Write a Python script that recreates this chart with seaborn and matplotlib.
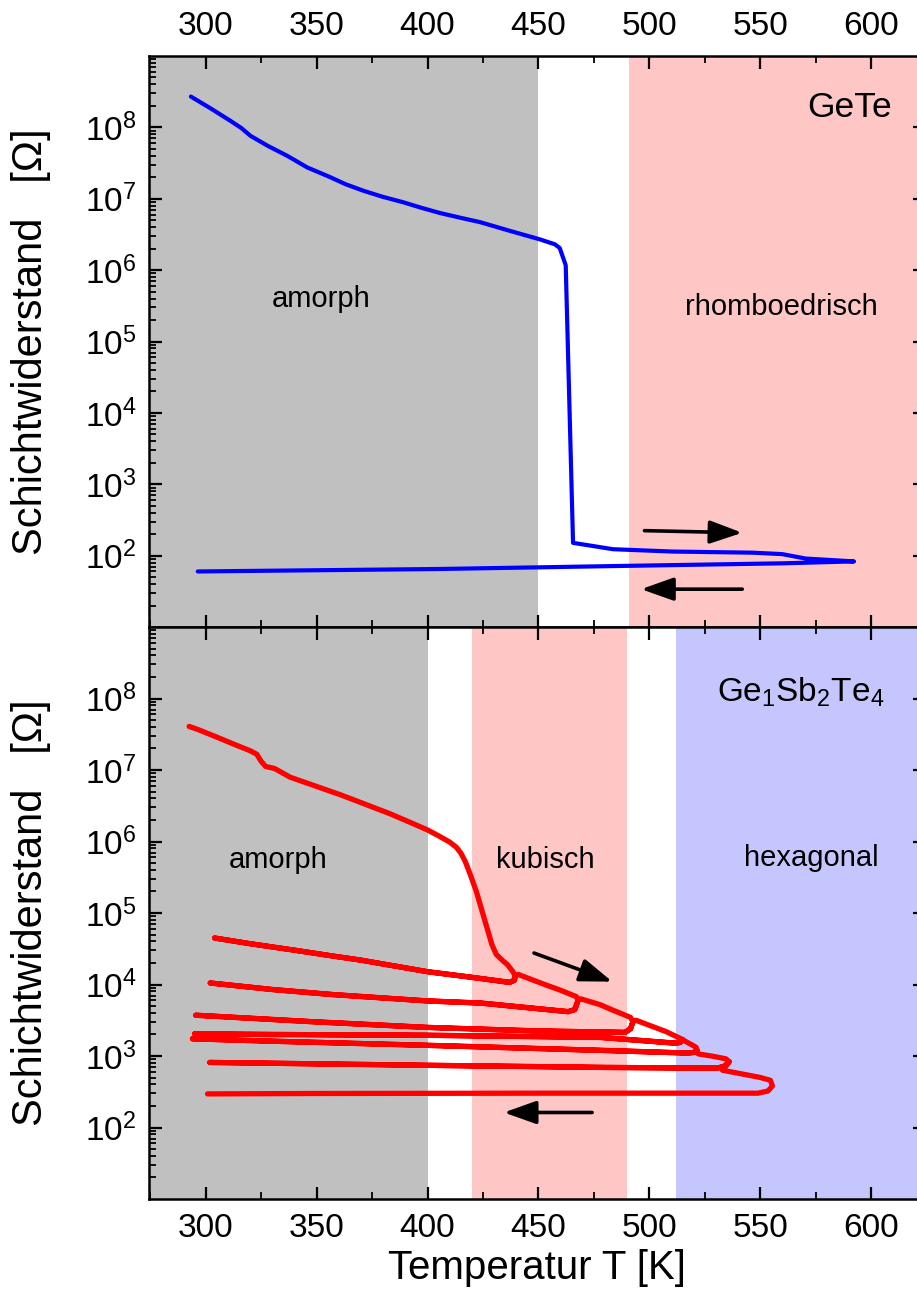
import matplotlib
matplotlib.use("Agg")
import matplotlib.pyplot as plt
from matplotlib.ticker import MultipleLocator, LogLocator, LogFormatterMathtext, NullFormatter
import numpy as np
import pandas as pd
import seaborn as sns

# ---------------- GeTe (upper panel) ----------------
gete_T = [293.3, 302, 311.2, 316, 320.2, 328, 336.7, 345.7, 356.2, 363, 371.2, 380, 389.2, 397,
          405.7, 415, 423.7, 437.1, 450.6, 457.4, 459.6, 462.3, 465.6, 483.6, 510.6, 546.6,
          559.9, 570.5, 592.3, 560, 491, 405.7, 296.4]
gete_R = [2.7e8, 1.86e8, 1.23e8, 9.8e7, 7.6e7, 5.5e7, 4.0e7, 2.75e7, 2.0e7, 1.6e7, 1.29e7,
          1.06e7, 8.9e6, 7.5e6, 6.3e6, 5.4e6, 4.7e6, 3.55e6, 2.7e6, 2.3e6, 2.04e6, 1.17e6, 151,
          123, 114, 110, 105, 91, 83, 78, 72, 65, 60]

# ---------------- Ge1Sb2Te4 (lower panel) ----------------
# first heating run of the amorphous film
gst_heat0_T = [292.5, 297, 305, 312, 320, 323, 325, 327, 331, 338, 350, 361, 372, 383, 392, 400,
               405, 410, 413, 415, 417, 419, 422, 424, 427, 429, 431, 434, 436, 438.5]
gst_heat0_R = [4.07e7, 3.63e7, 2.88e7, 2.34e7, 1.86e7, 1.66e7, 1.32e7, 1.12e7, 1.05e7, 7.94e6,
               5.89e6, 4.47e6, 3.31e6, 2.45e6, 1.86e6, 1.45e6, 1.2e6, 9.8e5, 8.3e5, 6.9e5,
               5.25e5, 3.63e5, 2.0e5, 1.23e5, 6.0e4, 3.63e4, 2.63e4, 2.14e4, 1.9e4, 1.51e4]
# cooling runs (turning point -> room temperature)
gst_cool1_T = [439.5, 439.2, 437, 420, 400, 370, 357, 340, 320, 304]
gst_cool1_R = [1.32e4, 1.15e4, 1.07e4, 1.26e4, 1.51e4, 2.19e4, 2.51e4, 3.02e4, 3.72e4, 4.47e4]
gst_heat1_T = [441, 447, 453.6, 460, 467.1]
gst_heat1_R = [1.38e4, 1.17e4, 9.8e3, 8.3e3, 6.76e3]
gst_cool2_T = [467.9, 466.4, 463.4, 424, 400, 357, 330, 302]
gst_cool2_R = [6.03e3, 4.47e3, 4.17e3, 5.5e3, 5.89e3, 7.24e3, 8.51e3, 1.05e4]
gst_heat2_T = [469, 477.6, 483.6, 491.5]
gst_heat2_R = [6.31e3, 5.25e3, 4.37e3, 3.47e3]
gst_cool3_T = [492.6, 491.5, 489, 450, 400, 348, 295.5]
gst_cool3_R = [3.02e3, 2.4e3, 2.14e3, 2.24e3, 2.51e3, 3.02e3, 3.72e3]
gst_heat3_T = [494, 500, 507.6, 513]
gst_heat3_R = [3.16e3, 2.69e3, 2.19e3, 1.82e3]
gst_cool4_T = [515, 514, 512, 478, 400, 330, 295]
gst_cool4_R = [1.70e3, 1.55e3, 1.51e3, 1.82e3, 1.95e3, 2.0e3, 2.04e3]
gst_heat4_T = [516, 519.6, 521.1]
gst_heat4_R = [1.62e3, 1.41e3, 1.32e3]
gst_cool5_T = [521.5, 520, 517, 478, 400, 327, 294]
gst_cool5_R = [1.20e3, 1.12e3, 1.10e3, 1.20e3, 1.41e3, 1.62e3, 1.74e3]
gst_heat5_T = [522, 528, 534.6]
gst_heat5_R = [1.07e3, 1.0e3, 912]
gst_cool6_T = [536, 534, 530.6, 480, 400, 301.8]
gst_cool6_R = [832, 724, 676, 692, 741, 813]
gst_heat6_T = [533, 540, 550, 554.6]
gst_heat6_R = [631, 575, 501, 457]
gst_cool7_T = [555.5, 553.5, 549, 450, 350, 300.8]
gst_cool7_R = [380, 324, 302, 302, 299, 295]

# phase regions
gete_regions = [(None, 450, "#c0c0c0"), (491, None, "#ffc6c6")]
gst_regions = [(None, 400, "#c0c0c0"), (420, 490, "#ffc6c6"), (512, None, "#c6c6ff")]

XLIM = (274.4, 624.3)
YLIM = (1e1, 1e9)

sns.set_style("ticks")
plt.rcParams["font.family"] = ["Liberation Sans", "DejaVu Sans"]
plt.rcParams["mathtext.fontset"] = "custom"
plt.rcParams["mathtext.rm"] = "Liberation Sans"
plt.rcParams["mathtext.it"] = "Liberation Sans:italic"
plt.rcParams["mathtext.default"] = "regular"
for key in ("text.color", "axes.labelcolor", "xtick.color", "ytick.color", "axes.edgecolor"):
    plt.rcParams[key] = "black"

W, H = 917, 1296
fig = plt.figure(figsize=(W / 100, H / 100), dpi=100)
left, right = 149, 925
ax1 = fig.add_axes([left / W, 1 - 627 / H, (right - left) / W, (627 - 56) / H])
ax2 = fig.add_axes([left / W, 1 - 1199 / H, (right - left) / W, (1199 - 627) / H])


def shade(ax, regions):
    for lo, hi, col in regions:
        ax.axvspan(XLIM[0] if lo is None else lo, XLIM[1] if hi is None else hi,
                   color=col, lw=0, zorder=0)


def style_axis(ax, labeltop):
    ax.set_xlim(*XLIM)
    ax.set_yscale("log")
    ax.set_ylim(*YLIM)
    ax.xaxis.set_major_locator(MultipleLocator(50))
    ax.xaxis.set_minor_locator(MultipleLocator(25))
    ax.set_yticks([1e2, 1e3, 1e4, 1e5, 1e6, 1e7, 1e8])
    ax.yaxis.set_major_formatter(LogFormatterMathtext())
    ax.yaxis.set_minor_locator(LogLocator(base=10, subs=np.arange(2, 10), numticks=20))
    ax.yaxis.set_minor_formatter(NullFormatter())
    ax.tick_params(which="both", direction="in", top=True, bottom=True, left=True, right=True,
                   labeltop=labeltop, labelbottom=not labeltop, colors="black")
    ax.tick_params(which="major", length=9, width=1.6, labelsize=24, pad=10)
    ax.tick_params(axis="y", which="major", pad=9)
    ax.tick_params(which="minor", length=5, width=1.3)
    for s in ax.spines.values():
        s.set_linewidth(1.8)
        s.set_color("black")
        s.set_zorder(5)
    ax.set_ylabel("Schichtwiderstand   [Ω]", fontsize=30)
    ax.yaxis.label.set_va("center")
    ax.yaxis.set_label_coords((31 - left) / (right - left), 0.5)
    ax.grid(False)


def arrow(ax, start, end):
    ax.annotate("", xy=end, xytext=start,
                arrowprops=dict(arrowstyle="-|>,head_length=0.9,head_width=0.32",
                                lw=2.6, color="black", shrinkA=0, shrinkB=0,
                                mutation_scale=22), zorder=4)


# ---- upper panel ----
shade(ax1, gete_regions)
sns.lineplot(data=pd.DataFrame({"T": gete_T, "R": gete_R}), x="T", y="R", sort=False,
             estimator=None, color="#0000ff", lw=3.0, ax=ax1, zorder=3)
style_axis(ax1, labeltop=True)
ax1.set_xlabel("")
ax1.text(609.4, 10 ** 8.14, "GeTe", fontsize=25.5, ha="right", va="baseline")
ax1.text(352.2, 10 ** 5.59, "amorph", fontsize=21, ha="center", va="center")
ax1.text(559.4, 10 ** 5.49, "rhomboedrisch", fontsize=21, ha="center", va="center")
arrow(ax1, (497.8, 10 ** 2.35), (541.9, 10 ** 2.32))
arrow(ax1, (541.9, 10 ** 1.53), (496.3, 10 ** 1.53))

# ---- lower panel: assemble the measurement sequence ----
heats = [(gst_heat0_T, gst_heat0_R), (gst_heat1_T, gst_heat1_R), (gst_heat2_T, gst_heat2_R),
         (gst_heat3_T, gst_heat3_R), (gst_heat4_T, gst_heat4_R), (gst_heat5_T, gst_heat5_R),
         (gst_heat6_T, gst_heat6_R)]
cools = [(gst_cool1_T, gst_cool1_R), (gst_cool2_T, gst_cool2_R), (gst_cool3_T, gst_cool3_R),
         (gst_cool4_T, gst_cool4_R), (gst_cool5_T, gst_cool5_R), (gst_cool6_T, gst_cool6_R),
         (gst_cool7_T, gst_cool7_R)]
path_T, path_R = [], []
for i, (hT, hR) in enumerate(heats):
    path_T += list(hT)
    path_R += list(hR)
    cT, cR = cools[i]
    path_T += list(cT)
    path_R += list(cR)
    if i < len(heats) - 1:
        # reheating retraces the cooling curve up to the previous turning point
        path_T += list(cT[::-1])
        path_R += list(cR[::-1])
gst = pd.DataFrame({"T": path_T, "R": path_R})

shade(ax2, gst_regions)
sns.lineplot(data=gst, x="T", y="R", sort=False, estimator=None, color="#ff0000", lw=3.8,
             ax=ax2, zorder=3)
style_axis(ax2, labeltop=False)
ax2.set_xlabel("Temperatur T [K]", fontsize=29)
ax2.xaxis.label.set_va("center")
ax2.xaxis.set_label_coords(0.5, (1199 - 1268) / (1199 - 627))
ax2.text(605.8, 10 ** 7.95, "Ge$_1$Sb$_2$Te$_4$", fontsize=24, ha="right", va="baseline")
ax2.text(332.4, 10 ** 5.74, "amorph", fontsize=21, ha="center", va="center")
ax2.text(452.9, 10 ** 5.74, "kubisch", fontsize=21, ha="center", va="center")
ax2.text(572.9, 10 ** 5.77, "hexagonal", fontsize=21, ha="center", va="center")
arrow(ax2, (448.0, 10 ** 4.44), (483.3, 10 ** 4.04))
arrow(ax2, (474.2, 10 ** 2.21), (434.4, 10 ** 2.21))

fig.savefig("out.png", dpi=100)
